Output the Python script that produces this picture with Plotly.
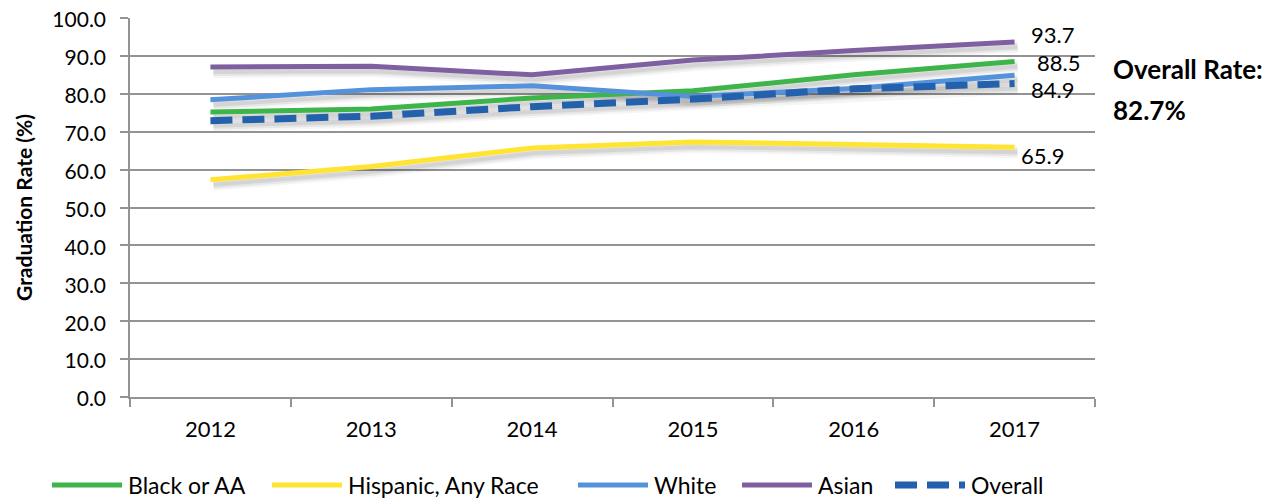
import plotly.graph_objects as go

years = ["2012", "2013", "2014", "2015", "2016", "2017"]
black_aa = [75.2, 76.0, 78.9, 80.8, 85.0, 88.5]
hispanic = [57.3, 60.8, 65.7, 67.3, 66.6, 65.9]
white = [78.4, 81.1, 82.1, 79.3, 81.4, 84.9]
asian = [87.1, 87.3, 85.0, 88.9, 91.4, 93.7]
overall = [72.9, 74.1, 76.6, 78.6, 81.3, 82.7]
overall_rate = 82.7

FONT = "Lato, Calibri, sans-serif"
GRID = "#939393"

# the page body has an 8px margin, so the figure is drawn 8px smaller and
# all pixel positions below are page coordinates minus that offset
OFF = 8
W, H = 1285 - OFF, 499 - OFF
L, R, T, B = 130 - OFF, 1095 - OFF, 18 - OFF, 397 - OFF

X_RANGE = [-0.5, len(years) - 0.5]
Y_RANGE = [0, 100]
# drop shadow: same data on a hidden axis pair shifted a few pixels
SH_DX, SH_DY = 3, 5
sh_dx = SH_DX * (X_RANGE[1] - X_RANGE[0]) / (R - L)
sh_dy = SH_DY * (Y_RANGE[1] - Y_RANGE[0]) / (B - T)


def px_x(p):
    return (p - OFF - L) / (R - L)


def px_y(p):
    return (B - (p - OFF)) / (B - T)


series = [
    ("Black or AA", black_aa, "#3db54a", "solid", 5),
    ("Hispanic, Any Race", hispanic, "#ffe531", "solid", 5),
    ("White", white, "#5592dc", "solid", 5),
    ("Asian", asian, "#7e60a0", "solid", 5),
    ("Overall", overall, "#2361ad", "22px,10px", 7),
]

fig = go.Figure()
for name, vals, color, dash, w in series:
    for sw, sa in [(12, 0.04), (8, 0.06), (4, 0.08)]:
        fig.add_trace(go.Scatter(
            x=years, y=vals, mode="lines", hoverinfo="skip", showlegend=False,
            line=dict(color=f"rgba(0,0,0,{sa})", width=sw),
            xaxis="x", yaxis="y",
        ))
for name, vals, color, dash, w in series:
    fig.add_trace(go.Scatter(
        x=years, y=vals, name=name, mode="lines",
        line=dict(color=color, width=w, dash=dash),
        showlegend=False, xaxis="x2", yaxis="y2",
    ))

# end-of-line value labels
end_labels = [
    (asian, 38, 7),
    (black_aa, 44, -1),
    (white, 38, -14),
    (hispanic, 28, -8),
]
last = len(years) - 1
for vals, xs, ys in end_labels:
    fig.add_annotation(
        xref="x2", yref="y2",
        x=last, y=vals[-1], text=f"{vals[-1]:.1f}",
        showarrow=False, xshift=xs, yshift=ys,
        font=dict(size=22, color="black", family=FONT),
    )

fig.add_annotation(xref="paper", yref="paper", x=px_x(1111), y=px_y(69),
                   xanchor="left", yanchor="middle", text="<b>Overall Rate:</b>",
                   showarrow=False, font=dict(size=26, color="black", family=FONT))
fig.add_annotation(xref="paper", yref="paper", x=px_x(1111), y=px_y(110),
                   xanchor="left", yanchor="middle", text=f"<b>{overall_rate:.1f}%</b>",
                   showarrow=False, font=dict(size=26, color="black", family=FONT))

# hand-drawn legend (long line swatches like the original)
leg_line_x = [52, 272, 578, 742, 895]
leg_y = px_y(485)
for (name, vals, color, dash, w), x0 in zip(series, leg_line_x):
    fig.add_shape(type="line", xref="paper", yref="paper",
                  x0=px_x(x0), x1=px_x(x0 + 70), y0=leg_y, y1=leg_y,
                  line=dict(color=color, width=w, dash=dash))
    fig.add_annotation(xref="paper", yref="paper", x=px_x(x0 + 74), y=leg_y,
                       xanchor="left", yanchor="middle", text=name, showarrow=False,
                       font=dict(size=23, color="black", family=FONT))

fig.update_layout(
    width=W, height=H,
    paper_bgcolor="white", plot_bgcolor="white",
    margin=dict(l=L, r=W - R, t=T, b=H - B),
    font=dict(family=FONT, size=22, color="black"),
    showlegend=False,
    xaxis=dict(
        type="category", range=[X_RANGE[0] - sh_dx, X_RANGE[1] - sh_dx],
        visible=False, automargin=False,
    ),
    yaxis=dict(
        range=[Y_RANGE[0] + sh_dy, Y_RANGE[1] + sh_dy],
        visible=False, automargin=False,
    ),
    xaxis2=dict(
        type="category", range=X_RANGE, automargin=False,
        overlaying="x", anchor="y2",
        showline=True, linecolor=GRID, linewidth=1.5,
        ticks="outside", tickson="boundaries", ticklen=8, tickcolor=GRID, tickwidth=1.5,
        showgrid=False, tickfont=dict(size=22), ticklabelstandoff=12,
    ),
    yaxis2=dict(
        range=Y_RANGE, dtick=10, tickformat=".1f", automargin=False,
        overlaying="y", anchor="x2",
        showline=True, linecolor=GRID, linewidth=1.5,
        ticks="outside", ticklen=8, tickcolor=GRID, tickwidth=1.5,
        showgrid=True, gridcolor=GRID, gridwidth=1.5, zeroline=False,
        ticklabelstandoff=10, ticklabeloverflow="allow", ticklabelshift=2,
        title=dict(text="<b>Graduation Rate (%)</b>", font=dict(size=21), standoff=14),
        tickfont=dict(size=21),
    ),
)

fig.write_html("out.html")
